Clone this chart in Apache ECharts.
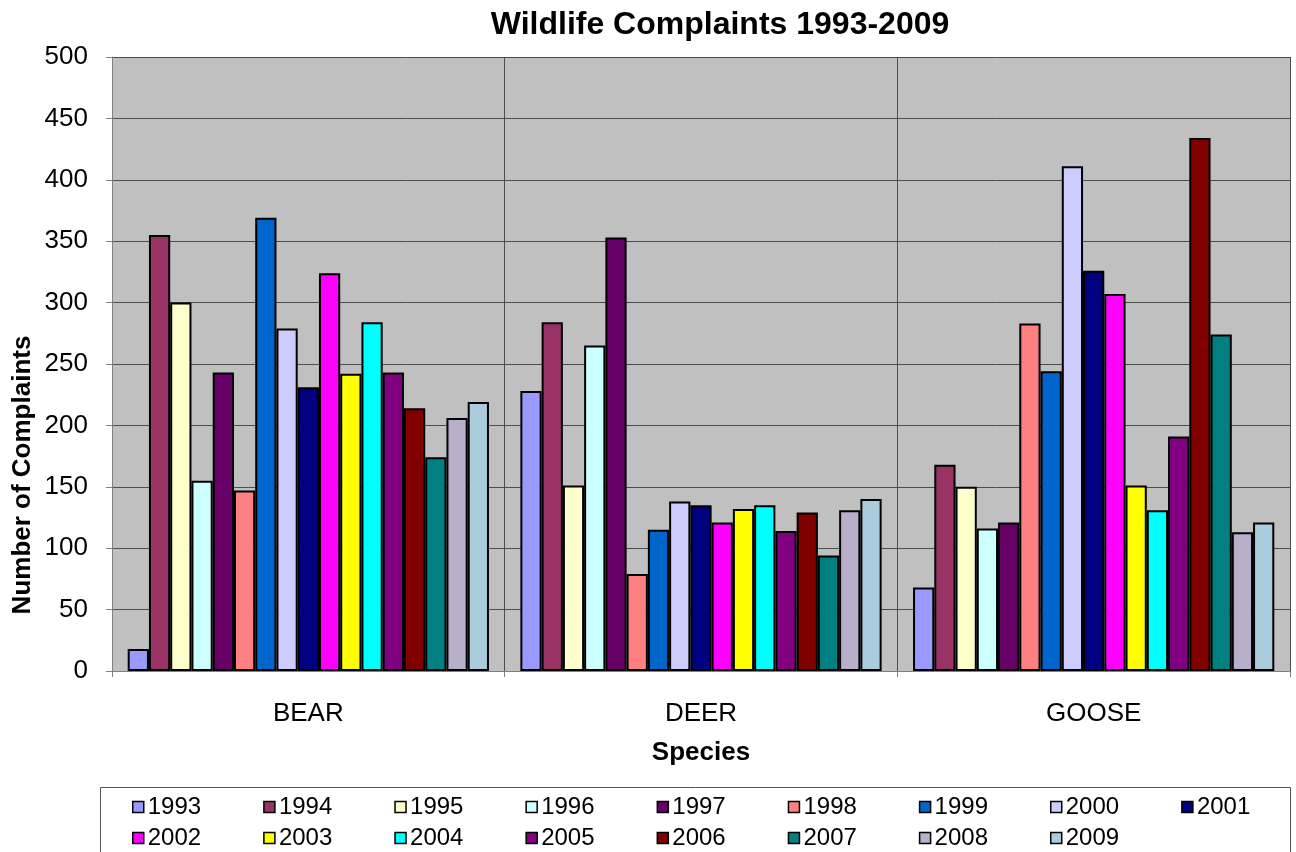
<!DOCTYPE html>
<html>
<head>
<meta charset="utf-8">
<script src="https://cdn.jsdelivr.net/npm/echarts@6/dist/echarts.min.js"></script>
<style>html,body{margin:0;padding:0;background:#fff}#c{width:1296px;height:852px}</style>
</head>
<body>
<div id="c"></div>
<script>
const categories = ['BEAR', 'DEER', 'GOOSE'];
const years = ['1993','1994','1995','1996','1997','1998','1999','2000','2001','2002','2003','2004','2005','2006','2007','2008','2009'];
const bearValues  = [18, 355, 300, 155, 243, 147, 369, 279, 231, 324, 242, 284, 243, 214, 174, 206, 219];
const deerValues  = [228, 284, 151, 265, 353, 79, 115, 138, 135, 121, 132, 135, 114, 129, 94, 131, 140];
const gooseValues = [68, 168, 150, 116, 121, 283, 244, 411, 326, 307, 151, 131, 191, 434, 274, 113, 121];
const yTicks = [0, 50, 100, 150, 200, 250, 300, 350, 400, 450, 500];
const colors = ['#9999FF','#993366','#FFFFCC','#CCFFFF','#660066','#FF8080','#0066CC','#CCCCFF','#000080','#FF00FF','#FFFF00','#00FFFF','#800080','#800000','#008080','#B9AFCB','#AACCDD'];

const FONT = '"Liberation Sans", Arial, sans-serif';
const series = years.map((y, i) => ({
  name: y,
  type: 'bar',
  data: [bearValues[i], deerValues[i], gooseValues[i]],
  barGap: '0%',
  barCategoryGap: '8%',
  itemStyle: { color: colors[i], borderColor: '#000', borderWidth: 2 },
  emphasis: { disabled: true }
}));

const legendCommon = {
  orient: 'horizontal',
  itemWidth: 11,
  itemHeight: 11,
  itemGap: 62,
  icon: 'rect',
  textStyle: { fontFamily: FONT, fontSize: 24, color: '#000', padding: [0,0,0,-1] },
  itemStyle: { borderColor: '#000', borderWidth: 1.5 },
  selectedMode: false
};

const chart = echarts.init(document.getElementById('c'));
chart.setOption({
  animation: false,
  backgroundColor: '#fff',
  color: colors,
  grid: { left: 112, right: 6, top: 57, bottom: 181, backgroundColor: '#C0C0C0', show: true, borderWidth: 0 },
  legend: [
    Object.assign({}, legendCommon, { left: 127, top: 790, data: years.slice(0, 9) }),
    Object.assign({}, legendCommon, { left: 127, top: 821, data: years.slice(9) })
  ],
  xAxis: {
    type: 'category',
    data: categories,
    name: 'Species',
    nameLocation: 'middle',
    nameGap: 69,
    nameTextStyle: { fontFamily: FONT, fontSize: 26, fontWeight: 'bold', color: '#000' },
    axisLine: { lineStyle: { color: '#808080', width: 1 } },
    axisTick: { show: true, length: 6, lineStyle: { color: '#808080' }, interval: 0 },
    axisLabel: { fontFamily: FONT, fontSize: 26, color: '#000', margin: 30 },
    splitLine: { show: true, interval: 0, lineStyle: { color: '#4d4d4d', width: 1 } }
  },
  yAxis: {
    type: 'value',
    min: yTicks[0], max: yTicks[yTicks.length - 1], interval: 50,
    axisLine: { show: true, lineStyle: { color: '#808080', width: 1 } },
    axisTick: { show: true, length: 6, lineStyle: { color: '#808080' } },
    axisLabel: { fontFamily: FONT, fontSize: 26, color: '#000', margin: 24 },
    splitLine: { show: true, lineStyle: { color: '#4d4d4d', width: 1 } }
  },
  graphic: [
    {
      type: 'rect', z: -1,
      shape: { x: 100.5, y: 787.5, width: 1190, height: 80 },
      style: { fill: '#fff', stroke: '#555', lineWidth: 1 }
    },
    {
      type: 'text',
      x: 720, y: 25,
      style: {
        text: 'Wildlife Complaints 1993-2009', fontFamily: FONT, fontSize: 32, fontWeight: 'bold',
        fill: '#000', align: 'center', verticalAlign: 'middle'
      }
    },
    {
      type: 'text',
      x: 23, y: 475, rotation: Math.PI / 2,
      style: {
        text: 'Number of Complaints', fontFamily: FONT, fontSize: 26, fontWeight: 'bold',
        fill: '#000', align: 'center', verticalAlign: 'middle'
      }
    }
  ],
  series: series
});
</script>
</body>
</html>
